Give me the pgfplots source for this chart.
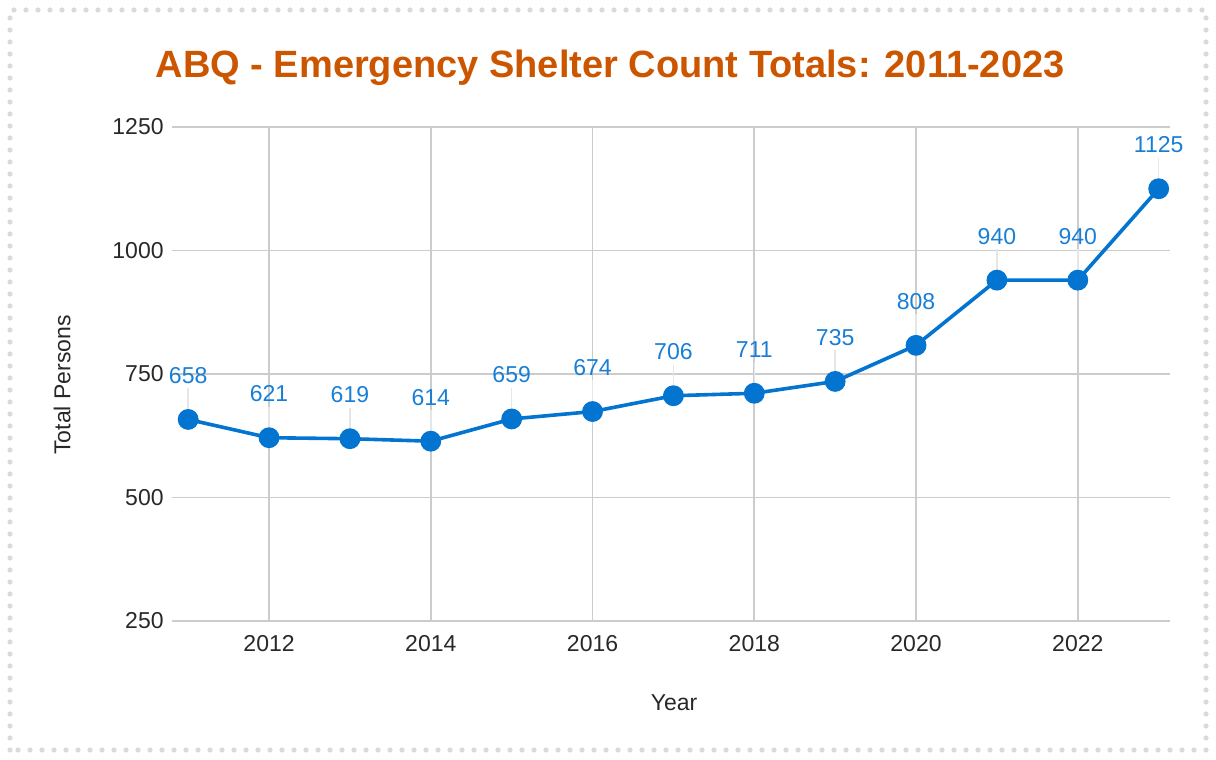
\documentclass[border=0pt]{standalone}
\usepackage{fontspec}
\setmainfont{Liberation Sans}
\usepackage{pgfplots}
\pgfplotsset{compat=1.18}
\definecolor{lineblue}{RGB}{3,116,207}
\definecolor{labelblue}{RGB}{25,126,214}
\definecolor{titleorange}{RGB}{204,85,0}
\definecolor{gridgray}{RGB}{204,204,204}
\definecolor{stemgray}{RGB}{230,230,230}
\definecolor{dotgray}{RGB}{218,218,218}
\definecolor{textgray}{RGB}{40,40,40}
\pgfplotstableread{
year persons
2011 658
2012 621
2013 619
2014 614
2015 659
2016 674
2017 706
2018 711
2019 735
2020 808
2021 940
2022 940
2023 1125
}\shelter
\begin{document}
\begin{tikzpicture}
\useasboundingbox (0,0) rectangle (608bp,380bp);
\draw[dotgray, line width=2.6bp, line cap=round, dash pattern=on 0pt off 6bp]
  (5bp,5bp) rectangle (603bp,375bp);
\begin{axis}[
  at={(86bp,69.5bp)}, anchor=south west,
  scale only axis, width=499bp, height=247bp,
  xmin=2010.8, xmax=2023.14,
  ymin=250, ymax=1250,
  xtick={2012,2014,...,2022},
  ytick={250,500,750,1000,1250},
  axis line style={draw=none},
  major tick length=0pt,
  grid=major,
  major grid style={gridgray, line width=0.9bp},
  clip=false,
  /pgf/number format/assume math mode=true,
  /pgf/number format/1000 sep={},
  tick label style={font=\fontsize{11.5bp}{13bp}\selectfont, text=textgray, inner sep=0pt},
  yticklabel style={anchor=east, xshift=-4bp},
  xticklabel style={anchor=north, yshift=-7bp},
  title={ABQ - Emergency Shelter Count Totals: 2011-2023},
  every axis title/.style={at={(rel axis cs:0.439,1.119)}, anchor=center,
    font=\bfseries\fontsize{19bp}{22bp}\selectfont, text=titleorange},
  xlabel={Year},
  every axis x label/.style={at={(rel axis cs:0.503,-0.166)}, anchor=center,
    font=\fontsize{11.5bp}{13bp}\selectfont, text=textgray},
  ylabel={Total Persons},
  every axis y label/.style={at={(rel axis cs:-0.110,0.478)}, anchor=center, rotate=90,
    font=\fontsize{11.5bp}{13bp}\selectfont, text=textgray},
]
% faint leader lines from points to their labels
\addplot[forget plot, draw=none, mark=none,
  error bars/.cd, y dir=plus, y fixed=63, error mark=none,
  error bar style={draw=stemgray, line width=0.8bp}]
  table[x=year, y=persons] {\shelter};
\addplot[lineblue, line width=1.8bp, mark=*, mark size=4.3bp,
  mark options={fill=lineblue, draw=lineblue},
  nodes near coords,
  every node near coord/.append style={anchor=base, yshift=18bp, inner sep=0pt,
    font=\fontsize{11.5bp}{13bp}\selectfont, text=labelblue}]
  table[x=year, y=persons] {\shelter};
\end{axis}
\end{tikzpicture}
\end{document}
